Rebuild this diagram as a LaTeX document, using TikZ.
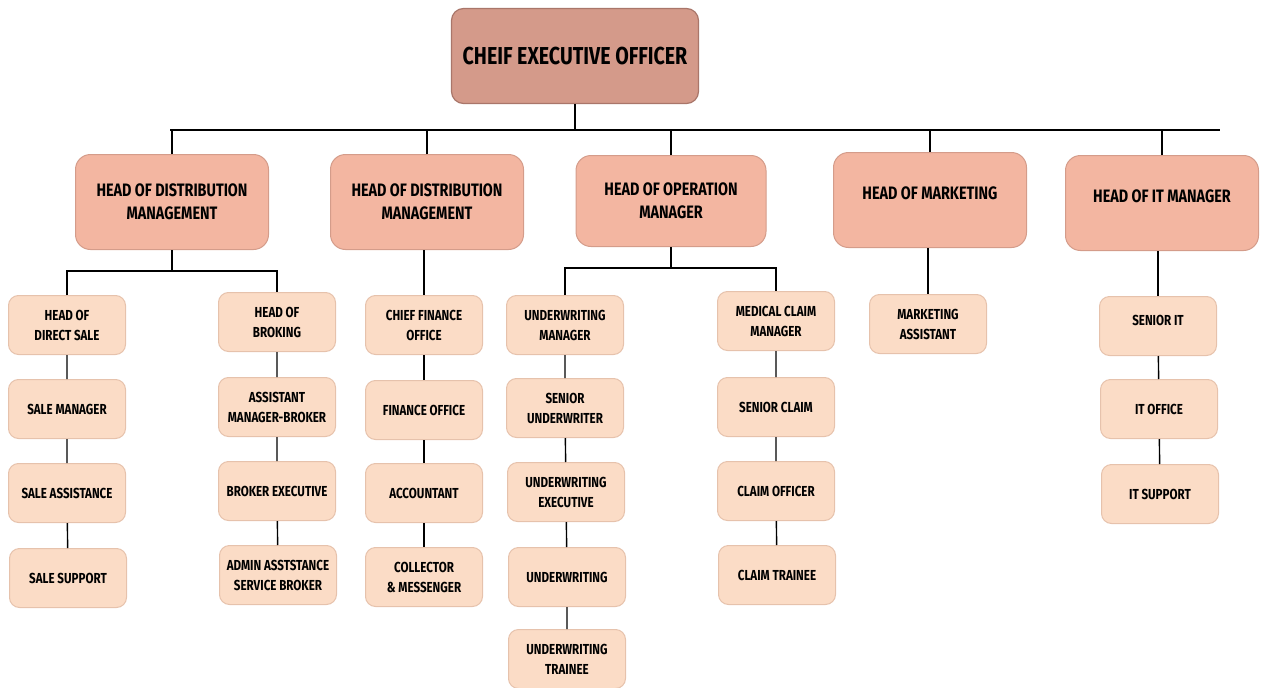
\documentclass[tikz,border=0pt]{standalone}
\usepackage{fontspec}
\setmainfont{Fira Sans}[FakeStretch=0.8]
\definecolor{ceofill}{HTML}{D49A8A}
\definecolor{ceoline}{HTML}{A9766A}
\definecolor{headfill}{HTML}{F3B6A1}
\definecolor{headline}{HTML}{D49C8A}
\definecolor{subfill}{HTML}{FBDCC6}
\definecolor{subline}{HTML}{E6C2AC}
\tikzset{
  ceobox/.style={draw=ceoline, line width=1.2pt, fill=ceofill, rounded corners=12pt, inner sep=0pt,
    minimum width=247pt, minimum height=95pt, align=center, font=\bfseries\fontsize{24.5}{28}\selectfont},
  headbox/.style={draw=headline, line width=1pt, fill=headfill, rounded corners=15pt, inner sep=0pt,
    minimum width=193pt, minimum height=95pt, align=center, font=\bfseries\fontsize{18}{23}\selectfont},
  subbox/.style={draw=subline, line width=1pt, fill=subfill, rounded corners=10pt, inner sep=0pt,
    minimum width=117pt, minimum height=59pt, align=center, font=\bfseries\fontsize{14.5}{20}\selectfont},
  conn/.style={draw=black, line width=1.4pt}
}
\begin{document}
\begin{tikzpicture}[x=1pt,y=-1pt]
\useasboundingbox (0,0) rectangle (1264,688);
% CEO
\node[ceobox] (ceo) at (575,56) {CHEIF EXECUTIVE OFFICER};
% heads
\node[headbox] (h1) at (172,202) {HEAD OF DISTRIBUTION\\MANAGEMENT};
\node[headbox] (h2) at (427,202) {HEAD OF DISTRIBUTION\\MANAGEMENT};
\node[headbox, minimum width=190pt, minimum height=91pt] (h3) at (671,201) {HEAD OF OPERATION\\MANAGER};
\node[headbox] (h4) at (930,200) {\raisebox{14pt}{HEAD OF MARKETING}};
\node[headbox] (h5) at (1162,203) {\raisebox{14pt}{HEAD OF IT MANAGER}};
% column A
\node[subbox] (a1) at (67,325) {HEAD OF\\DIRECT SALE};
\node[subbox] (a2) at (67,409) {SALE MANAGER};
\node[subbox] (a3) at (67,493) {SALE ASSISTANCE};
\node[subbox] (a4) at (68,578) {SALE SUPPORT};
% column B
\node[subbox] (b1) at (277,322) {HEAD OF\\BROKING};
\node[subbox] (b2) at (277,407) {ASSISTANT\\MANAGER-BROKER};
\node[subbox] (b3) at (277,491) {BROKER EXECUTIVE};
\node[subbox] (b4) at (278,575) {ADMIN ASSTSTANCE\\SERVICE BROKER};
% column C
\node[subbox] (c1) at (424,325) {CHIEF FINANCE\\OFFICE};
\node[subbox] (c2) at (424,410) {FINANCE OFFICE};
\node[subbox] (c3) at (424,493) {ACCOUNTANT};
\node[subbox] (c4) at (424,577) {COLLECTOR\\\& MESSENGER};
% column D
\node[subbox] (d1) at (565,325) {UNDERWRITING\\MANAGER};
\node[subbox] (d2) at (565,408) {SENIOR\\UNDERWRITER};
\node[subbox] (d3) at (566,492) {UNDERWRITING\\EXECUTIVE};
\node[subbox] (d4) at (567,577) {UNDERWRITING};
\node[subbox] (d5) at (567,659) {UNDERWRITING\\TRAINEE};
% column E
\node[subbox] (e1) at (776,321) {MEDICAL CLAIM\\MANAGER};
\node[subbox] (e2) at (776,407) {SENIOR CLAIM};
\node[subbox] (e3) at (776,491) {CLAIM OFFICER};
\node[subbox] (e4) at (777,575) {CLAIM TRAINEE};
% column F
\node[subbox] (f1) at (928,324) {MARKETING\\ASSISTANT};
% column G
\node[subbox] (g1) at (1158,326) {\raisebox{12pt}{SENIOR IT}};
\node[subbox] (g2) at (1159,409) {IT OFFICE};
\node[subbox] (g3) at (1160,494) {IT SUPPORT};
% bus
\coordinate (busL) at (170,130);
\coordinate (busR) at (1220,130);
\draw[conn] (busL) -- (busR);
\draw[conn] (ceo.south) -- (ceo.south |- busL);
\foreach \h in {h1,h2,h3,h4,h5} \draw[conn] (\h.north) -- (\h.north |- busL);
% sub buses
\coordinate (s1) at (172,271);
\draw[conn] (h1.south) -- (h1.south |- s1);
\draw[conn] (a1.north) -- (a1.north |- s1) -- (b1.north |- s1) -- (b1.north);
\coordinate (s3) at (671,268);
\draw[conn] (h3.south) -- (h3.south |- s3);
\draw[conn] (d1.north) -- (d1.north |- s3) -- (e1.north |- s3) -- (e1.north);
\draw[conn] (c1.north |- h2.south) -- (c1.north);
\draw[conn] (f1.north |- h4.south) -- (f1.north);
\draw[conn] (g1.north |- h5.south) -- (g1.north);
% chains
\draw[conn] (a1) -- (a2) (a2) -- (a3) (a3) -- (a4);
\draw[conn] (b1) -- (b2) (b2) -- (b3) (b3) -- (b4);
\draw[conn] (c1) -- (c2) (c2) -- (c3) (c3) -- (c4);
\draw[conn] (d1) -- (d2) (d2) -- (d3) (d3) -- (d4) (d4) -- (d5);
\draw[conn] (e1) -- (e2) (e2) -- (e3) (e3) -- (e4);
\draw[conn] (g1) -- (g2) (g2) -- (g3);
\end{tikzpicture}
\end{document}
